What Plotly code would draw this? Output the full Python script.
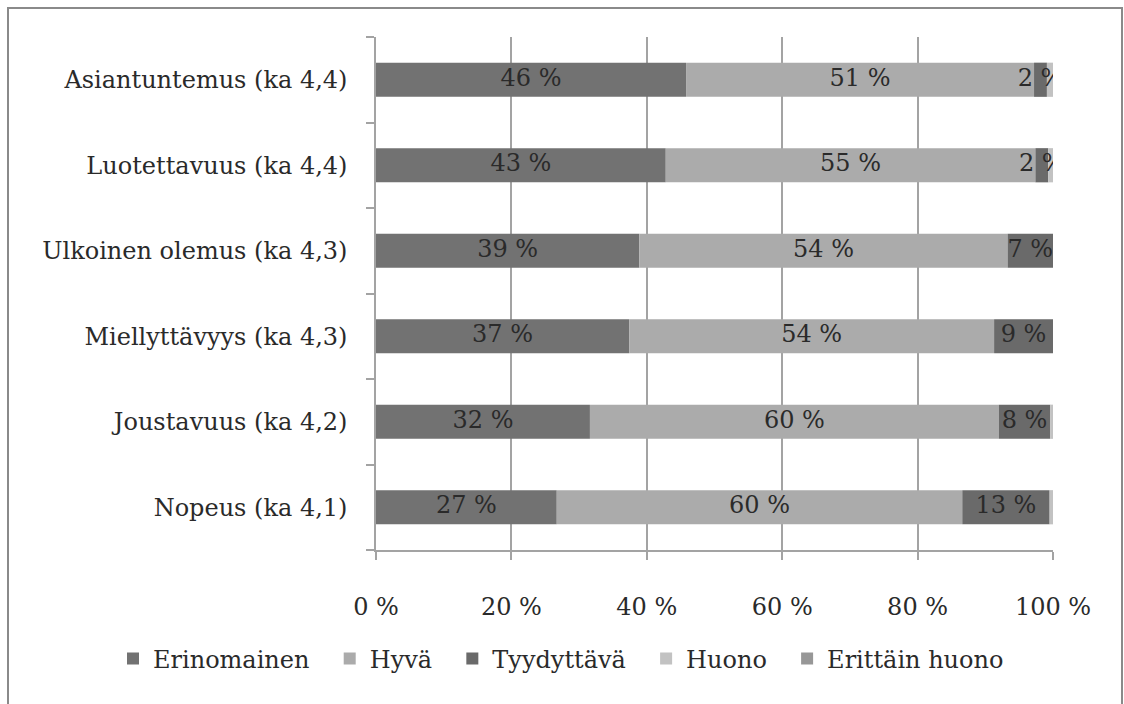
import plotly.graph_objects as go

# Survey ratings per attribute, share of answers (%)
categories = [
    "Asiantuntemus (ka 4,4)",
    "Luotettavuus (ka 4,4)",
    "Ulkoinen olemus (ka 4,3)",
    "Miellyttävyys (ka 4,3)",
    "Joustavuus (ka 4,2)",
    "Nopeus (ka 4,1)",
]
series_names = ["Erinomainen", "Hyvä", "Tyydyttävä", "Huono", "Erittäin huono"]
erinomainen = [45.8, 42.8, 38.9, 37.4, 31.6, 26.7]
hyva = [51.4, 54.6, 54.4, 53.9, 60.4, 59.9]
tyydyttava = [1.9, 1.9, 6.7, 8.7, 7.6, 12.9]
huono = [0.9, 0.7, 0.0, 0.0, 0.4, 0.5]
erittain_huono = [0.0, 0.0, 0.0, 0.0, 0.0, 0.0]
series_values = [erinomainen, hyva, tyydyttava, huono, erittain_huono]
labelled = [True, True, True, False, False]
x_ticks = [0, 20, 40, 60, 80, 100]

colors = ["#727272", "#ababab", "#6a6a6a", "#c2c2c2", "#979797"]
FONT = "DejaVu Serif"
FONT_SIZE = 24
TEXT_COLOR = "#2a2a2a"
PAD = "\u00a0\u00a0"  # extra room after each legend entry

fig = go.Figure()
left = [0.0] * len(categories)
label_x, label_y, label_t = [], [], []
for name, vals, col, lab in zip(series_names, series_values, colors, labelled):
    fig.add_trace(go.Bar(
        name=name + PAD, y=categories, x=vals, base=left, orientation="h",
        marker=dict(color=col, line=dict(width=0)),
        hovertemplate=name + ": %{x}<extra></extra>",
    ))
    if lab:
        for c, v, b in zip(categories, vals, left):
            if v > 0:
                label_x.append(b + v / 2)
                label_y.append(c)
                label_t.append(f"{round(v)} %")
    left = [b + v for b, v in zip(left, vals)]

fig.add_trace(go.Scatter(
    x=label_x, y=label_y, text=label_t, mode="text",
    textfont=dict(family=FONT, size=FONT_SIZE, color=TEXT_COLOR),
    showlegend=False, hoverinfo="skip",
))

W, H = 1124, 704
ml, mr, mt, mb = 376, 71, 37, 154
pw, ph = W - ml - mr, H - mt - mb

def px_x(p):
    return (p - ml) / pw

def px_y(p):
    return 1 - (p - mt) / ph

fig.add_shape(type="rect", xref="paper", yref="paper",
              x0=px_x(8), x1=px_x(1122), y0=px_y(712), y1=px_y(8),
              line=dict(color="#8a8a8a", width=2), layer="below")

fig.update_layout(
    width=W, height=H,
    margin=dict(l=ml, r=mr, t=mt, b=mb, autoexpand=False),
    barmode="overlay", bargap=0.6,
    paper_bgcolor="white", plot_bgcolor="white",
    font=dict(family=FONT, size=FONT_SIZE, color=TEXT_COLOR),
    showlegend=True,
    legend=dict(orientation="h", xref="paper", x=px_x(113), xanchor="left",
                yref="paper", y=px_y(659), yanchor="middle",
                bgcolor="rgba(0,0,0,0)",
                font=dict(family=FONT, size=FONT_SIZE, color=TEXT_COLOR),
                itemwidth=30, traceorder="normal"),
    xaxis=dict(range=[0, 100], tickvals=x_ticks, ticktext=[f"{v} %" for v in x_ticks],
               showgrid=True, gridcolor="#a3a3a3", gridwidth=1.5,
               showline=True, linecolor="#a3a3a3", linewidth=1.5,
               ticks="outside", ticklen=8, tickcolor="#a3a3a3", tickwidth=1.5,
               ticklabelstandoff=26, zeroline=False, fixedrange=True),
    yaxis=dict(categoryorder="array", categoryarray=categories[::-1],
               autorange=False, range=[-0.5, len(categories) - 0.5],
               showline=True, linecolor="#a3a3a3", linewidth=1.5,
               ticks="outside", ticklen=8, tickcolor="#a3a3a3", tickwidth=1.5,
               tickson="boundaries", ticklabelstandoff=22, showgrid=False,
               fixedrange=True),
)

fig.write_html("out.html")
